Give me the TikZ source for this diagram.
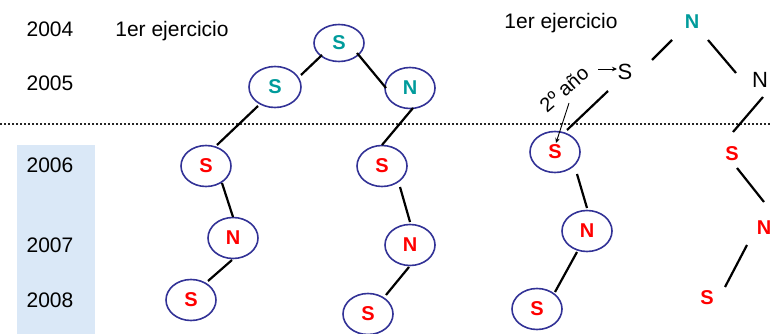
\documentclass[tikz,border=0pt]{standalone}
\usepackage{fontspec}
\setmainfont{Liberation Sans}
\usetikzlibrary{shapes.geometric,calc,arrows.meta}
\definecolor{tealc}{RGB}{0,155,155}
\definecolor{redc}{RGB}{255,0,0}
\definecolor{ringc}{RGB}{50,50,150}
\definecolor{bandc}{RGB}{218,232,247}
\begin{document}
\begin{tikzpicture}[x=1pt,y=-1pt,
  year/.style={font=\fontsize{21}{21}\selectfont, anchor=base, inner sep=0pt},
  oval/.style={ellipse, draw=ringc, line width=1.6pt, minimum width=50pt, minimum height=41pt, inner sep=0pt, font=\fontsize{20}{20}\selectfont\bfseries},
  tealtxt/.style={text=tealc},
  redtxt/.style={text=redc},
  bare/.style={inner sep=0pt, font=\fontsize{20}{20}\selectfont\bfseries},
  plain/.style={inner sep=0pt, font=\fontsize{22}{22}\selectfont},
  link/.style={line width=2.2pt, black},
  pointer/.style={line width=0.9pt, black, -{Stealth[length=5pt,width=4.5pt]}},
]
\useasboundingbox (0,0) rectangle (770,334);
% shaded band behind the later years
\fill[bandc] (17,145) rectangle (95,334);
% dotted separator
\coordinate (dl) at (0,124);
\coordinate (dr) at (770,124);
\draw[line width=1.6pt, black!85, dash pattern=on 1.8pt off 2.2pt] (dl) -- (dr);

% years
\node[year] (y2004) at (50,37) {2004};
\node[year] (y2005) at (50,91) {2005};
\node[year] (y2006) at (50,172) {2006};
\node[year] (y2007) at (50,252) {2007};
\node[year] (y2008) at (50,307) {2008};
\node[year] (ej1) at (172,37) {1er ejercicio};
\node[year] (ej2) at (561,29) {1er ejercicio};

% left tree
\node[oval, tealtxt, minimum height=37pt] (tS) at (339,43) {S};
\node[oval, tealtxt, minimum width=52pt] (lS) at (275,87) {S};
\node[oval, tealtxt] (rN) at (410,88) {N};
\node[oval, redtxt] (S6a) at (206,166) {S};
\node[oval, redtxt] (N7a) at (233,238) {N};
\node[oval, redtxt] (S8a) at (191,300) {S};
% middle tree
\node[oval, redtxt] (S6b) at (382,166) {S};
\node[oval, redtxt] (N7b) at (410,245) {N};
\node[oval, redtxt] (S8b) at (368,314) {S};
% right-middle tree
\node[oval, redtxt] (S6c) at (555,152) {S};
\node[oval, redtxt] (N7c) at (587,231) {N};
\node[oval, redtxt] (S8c) at (537,309) {S};
% right tree (no ovals)
\node[bare, tealtxt] (nT) at (692,22) {N};
\node[plain] (sB) at (625,72) {S};
\node[plain] (nB) at (760,80) {N};
\node[bare, redtxt] (sR1) at (732,154) {S};
\node[bare, redtxt] (nR) at (764,228) {N};
\node[bare, redtxt] (sR2) at (707,298) {S};

% annotation
\node[inner sep=0pt, rotate=41, font=\fontsize{20}{20}\selectfont] (ano) at (564,89) {2º año};
\draw[pointer] ($(ano)+(5,14)$) -- ($(S6c)+(1,-9)$);
\draw[pointer] ($(sB)+(-27,-3)$) -- ($(sB)+(-8,-3)$);

% connectors, left tree
\draw[link] ($(tS)+(-17,12)$) -- ($(lS)+(26,-12)$);
\draw[link] ($(tS)+(18,10)$) -- ($(rN)+(-24,0)$);
\draw[link] ($(lS)+(-17,19)$) -- ($(S6a)+(11,-21)$);
\draw[link] ($(S6a)+(16,17)$) -- ($(N7a)+(0,-21)$);
\draw[link] ($(N7a)+(-1,22)$) -- ($(S8a)+(17,-19)$);
% middle tree
\draw[link] ($(rN)+(3,20)$) -- ($(S6b)+(0,-21)$);
\draw[link] ($(S6b)+(18,21)$) -- ($(N7b)+(0,-23)$);
\draw[link] ($(N7b)+(-1,22)$) -- ($(S8b)+(18,-19)$);
% right-middle tree
\draw[link] ($(sB)+(-17,19)$) -- ($(S6c)+(12,-22)$);
\draw[link] ($(S6c)+(22,22)$) -- ($(N7c)+(0,-23)$);
\draw[link] ($(N7c)+(-10,21)$) -- ($(S8c)+(18,-17)$);
% right tree
\draw[link] ($(nT)+(-20,18)$) -- ($(sB)+(27,-12)$);
\draw[link] ($(nT)+(16,18)$) -- ($(nB)+(-24,-7)$);
\draw[link] ($(nB)+(3,17)$) -- ($(sR1)+(1,-22)$);
\draw[link] ($(sR1)+(5,14)$) -- ($(nR)+(0,-26)$);
\draw[link] ($(nR)+(-17,17)$) -- ($(sR2)+(18,-11)$);
\end{tikzpicture}
\end{document}
